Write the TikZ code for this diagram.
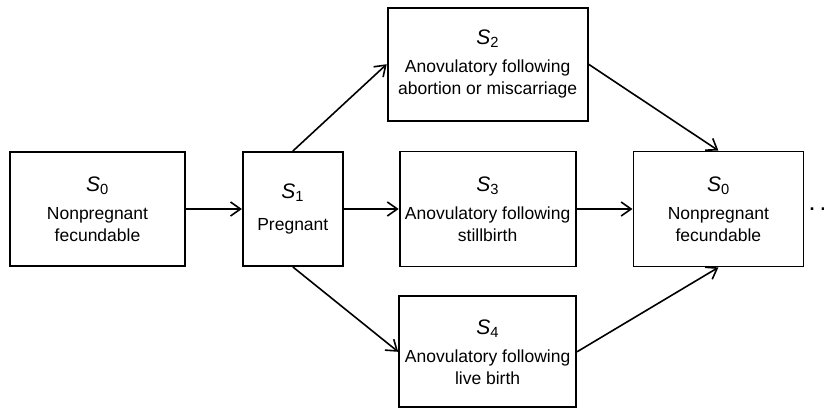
\documentclass[tikz,border=0pt]{standalone}
\usepackage{fontspec}
\setmainfont{Liberation Sans}
\usepackage{tikz}
\usetikzlibrary{positioning,arrows.meta}
\tikzset{
  mc state/.style={rectangle, draw, line width=1.8pt, align=center, inner sep=0pt, font=\fontsize{17.5}{22}\selectfont},
  mc trans/.style={line width=1.6pt, -{Straight Barb[length=10pt,width=14pt,line width=1.6pt]}}
}
\newcommand{\statelbl}[1]{{\fontsize{21}{21}\selectfont\itshape S\textsubscript{\upshape #1}}}

\begin{document}
\begin{tikzpicture}
    \useasboundingbox (0,0) rectangle (824pt,-408pt);
    % Starting state
    \node [mc state, minimum width=175pt, minimum height=114pt] (S0) at (97.5pt,-209pt)
        {\statelbl{0}\\[6pt] Nonpregnant\\fecundable};
    \node [mc state, minimum width=100pt, minimum height=114pt, right=56pt of S0] (S1)
        {\statelbl{1}\\[10pt] Pregnant};

    % Outcomes of pregnancy
    \node [mc state, minimum width=176pt, minimum height=115pt, right=55pt of S1] (S3)
        {\statelbl{3}\\[6pt] Anovulatory following\\stillbirth};
    \node [mc state, minimum width=200pt, minimum height=113pt, above=29pt of S3] (S2)
        {\statelbl{2}\\[6pt] Anovulatory following\\abortion or miscarriage};
    \node [mc state, minimum width=177pt, minimum height=111pt, below=28pt of S3] (S4)
        {\statelbl{4}\\[6pt] Anovulatory following\\live birth};

    % Back to the start
    \node [mc state, minimum width=170pt, minimum height=115pt, right=56pt of S3] (S0b)
        {\statelbl{0}\\[6pt] Nonpregnant\\fecundable};
    \node [right=5pt of S0b, inner sep=0pt, font=\bfseries\fontsize{18}{18}\selectfont] (more) {.\hspace{6pt}.};

    % Transitions
    \draw [mc trans] (S0) -- (S1);
    \draw [mc trans] (S1.north) -- (S2.west);
    \draw [mc trans] (S1) -- (S3);
    \draw [mc trans] (S1.south) -- (S4.west);
    \draw [mc trans] (S2.east) -- (S0b.north);
    \draw [mc trans] (S3) -- (S0b);
    \draw [mc trans] (S4.east) -- (S0b.south);
\end{tikzpicture}
\end{document}
